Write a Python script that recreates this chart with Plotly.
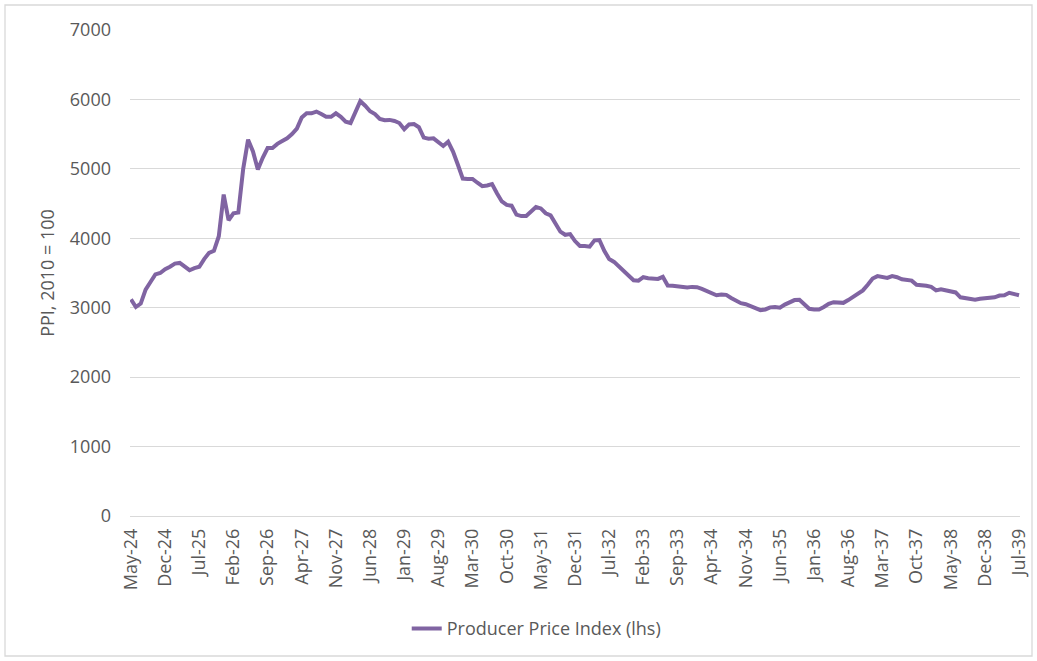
import plotly.graph_objects as go

months = ["Jan", "Feb", "Mar", "Apr", "May", "Jun", "Jul", "Aug", "Sep", "Oct", "Nov", "Dec"]
# Monthly categories May-24 .. Jul-39
categories = []
for yr in range(24, 40):
    for mi, m in enumerate(months):
        if yr == 24 and mi < 4:
            continue
        if yr == 39 and mi > 6:
            continue
        categories.append(f"{m}-{yr}")

ppi = [
    3120, 3010, 3060, 3260, 3370, 3480, 3500, 3555, 3590, 3635,
    3645, 3585, 3540, 3570, 3590, 3700, 3790, 3820, 4030, 4630,
    4260, 4360, 4370, 5000, 5420, 5250, 4990, 5160, 5300, 5300,
    5360, 5400, 5440, 5500, 5580, 5740, 5800, 5800, 5825, 5790,
    5750, 5750, 5800, 5750, 5680, 5660, 5820, 5975, 5910, 5830,
    5790, 5720, 5700, 5705, 5690, 5660, 5570, 5640, 5645, 5600,
    5450, 5435, 5440, 5390, 5330, 5390, 5250, 5060, 4860, 4855,
    4855, 4800, 4750, 4760, 4780, 4650, 4530, 4480, 4470, 4340,
    4320, 4320, 4380, 4450, 4430, 4360, 4330, 4215, 4095, 4050,
    4060, 3960, 3890, 3890, 3880, 3970, 3975, 3820, 3700, 3660,
    3590, 3525, 3460, 3395, 3390, 3440, 3425, 3420, 3415, 3445,
    3320, 3315, 3305, 3290, 3290, 3300, 3295, 3270, 3240, 3200,
    3180, 3190, 3185, 3140, 3105, 3065, 3050, 3020, 2985, 2965,
    2975, 3005, 3010, 3000, 3045, 3085, 3110, 3115, 3040, 2985,
    2975, 2975, 3010, 3055, 3080, 3080, 3070, 3110, 3160, 3205,
    3250, 3330, 3420, 3455, 3440, 3430, 3455, 3440, 3410, 3400,
    3390, 3330, 3325, 3315, 3300, 3250, 3265, 3250, 3235, 3220,
    3150, 3140, 3130, 3115, 3130, 3135, 3140, 3150, 3175, 3180,
    3215, 3195, 3180,
]

tick_labels = categories[::7]
y_ticks = [0, 1000, 2000, 3000, 4000, 5000, 6000, 7000]

FONT = "Open Sans"
GREY = "#595959"

fig = go.Figure()
fig.add_trace(go.Scatter(
    x=categories, y=ppi, mode="lines",
    name="Producer Price Index (lhs)",
    line=dict(color="#8064A2", width=4),
))

fig.update_layout(
    width=1037, height=661,
    paper_bgcolor="white", plot_bgcolor="white",
    margin=dict(l=130, r=17, t=30, b=145, autoexpand=False),
    font=dict(family=FONT, size=18, color=GREY),
    showlegend=True,
    legend=dict(orientation="h", x=0.457, xanchor="center", y=-0.232, yanchor="middle",
                font=dict(size=18, color=GREY), itemwidth=30),
    xaxis=dict(
        type="category", tickmode="array", tickvals=tick_labels, ticktext=tick_labels,
        tickangle=-90, showgrid=False, showline=False, zeroline=False, automargin=False,
        range=[-0.2, len(categories) - 0.8], ticks="", ticklabelstandoff=8,
        tickfont=dict(size=18, color=GREY),
    ),
    yaxis=dict(
        range=[0, 7000], tickvals=y_ticks, showgrid=True, gridcolor="#D9D9D9", gridwidth=1.3,
        zeroline=True, zerolinecolor="#D9D9D9", zerolinewidth=1.3, showline=False,
        ticks="", ticklabelstandoff=18, automargin=False,
        tickfont=dict(size=18, color=GREY),
        title=dict(text="PPI, 2010 = 100", font=dict(size=18, color=GREY), standoff=10),
    ),
)

fig.add_shape(type="rect", xref="paper", yref="paper",
              x0=(5 - 130) / 890, x1=(1032 - 130) / 890,
              y0=(516 - 656) / 486, y1=(516 - 5) / 486,
              line=dict(color="#D9D9D9", width=1.3), fillcolor="rgba(0,0,0,0)", layer="below")

fig.write_html("out.html", config={"displayModeBar": False},
               post_script="document.body.style.margin='0';")
